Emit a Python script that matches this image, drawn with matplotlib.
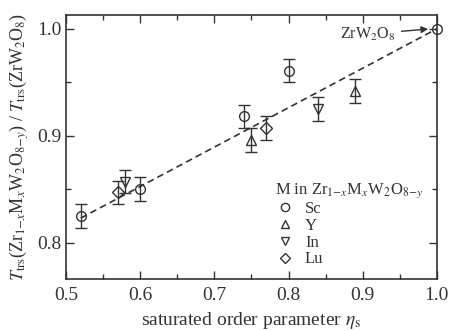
import matplotlib
matplotlib.use("Agg")
import matplotlib.pyplot as plt
from matplotlib.ticker import MultipleLocator

plt.rcParams['font.family'] = ['Liberation Serif', 'DejaVu Serif']
plt.rcParams['mathtext.fontset'] = 'stix'

# data
sc_x = [0.52, 0.60, 0.74, 0.80]
sc_y = [0.825, 0.850, 0.918, 0.961]
sc_err = [0.0115, 0.011, 0.011, 0.011]
y_x = [0.75, 0.89]
y_y = [0.896, 0.942]
y_err = [0.011, 0.011]
in_x = [0.579, 0.84]
in_y = [0.857, 0.925]
in_err = [0.011, 0.011]
lu_x = [0.57, 0.77]
lu_y = [0.847, 0.907]
lu_err = [0.011, 0.011]
ref_x = [1.0]
ref_y = [1.0]
fit_x = [0.52, 1.0]
fit_y = [0.823, 1.0]

c = '#333333'

fig = plt.figure(figsize=(4.49, 3.31), dpi=100)
ax = fig.add_axes([0.147, 0.157, 0.826, 0.798])

ax.plot(fit_x, fit_y, '--', color=c, lw=1.2, dashes=(4, 2.5))

common = dict(ls='none', mfc='none', mec=c, ecolor=c, ms=7, mew=1.0,
              elinewidth=1.0, capsize=4, capthick=1.0)
h_sc = ax.errorbar(sc_x, sc_y, yerr=sc_err, marker='o', **common)
h_y = ax.errorbar(y_x, y_y, yerr=y_err, marker='^', **common)
h_in = ax.errorbar(in_x, in_y, yerr=in_err, marker='v', **common)
h_lu = ax.errorbar(lu_x, lu_y, yerr=lu_err, marker='D', ms=6.5, ls='none', mfc='none',
                   mec=c, ecolor=c, mew=1.0, elinewidth=1.0, capsize=4, capthick=1.0)
ax.plot(ref_x, ref_y, 'o', mfc='none', mec=c, ms=7, mew=1.0, clip_on=False)

ax.annotate('ZrW$_2$O$_8$', xy=(0.992, 1.0), xytext=(0.870, 0.995),
            fontsize=11.5, color=c, va='center',
            arrowprops=dict(arrowstyle='-|>', color=c, lw=1.0, mutation_scale=10))

ax.set_xlim(0.5, 1.0)
ax.set_ylim(0.766, 1.013)
ax.xaxis.set_major_locator(MultipleLocator(0.1))
ax.xaxis.set_minor_locator(MultipleLocator(0.05))
ax.yaxis.set_major_locator(MultipleLocator(0.1))
ax.yaxis.set_minor_locator(MultipleLocator(0.05))
ax.tick_params(which='both', direction='in', top=True, right=True, colors=c,
               labelsize=14, width=1.0)
ax.tick_params(which='major', length=6)
ax.tick_params(which='minor', length=3.5)
ax.tick_params(axis='x', pad=6)
for s in ax.spines.values():
    s.set_color(c)
    s.set_linewidth(1.2)

ax.set_xlabel(r'saturated order parameter $\eta_\mathrm{s}$', fontsize=14, color=c, labelpad=4)
ax.set_ylabel(r'$T_\mathrm{trs}$(Zr$_{1\mathrm{-}x}$M$_x$W$_2$O$_{8\mathrm{-}y}$) / $T_\mathrm{trs}$(ZrW$_2$O$_8$)',
              fontsize=13, color=c, labelpad=4)

leg = ax.legend([h_sc[0], h_y[0], h_in[0], h_lu[0]], ['Sc', 'Y', 'In', 'Lu'],
                title=r'M in Zr$_{1\mathrm{-}x}$M$_x$W$_2$O$_{8\mathrm{-}y}$',
                loc='lower right', bbox_to_anchor=(0.995, 0.0), frameon=False,
                fontsize=12, title_fontsize=12, handlelength=1.2, markerscale=0.85,
                handletextpad=0.6, labelspacing=0.05, borderaxespad=0.3)
leg._legend_box.align = 'left'
for t in leg.get_texts():
    t.set_color(c)
leg.get_title().set_color(c)

fig.savefig('out.png', dpi=100)
